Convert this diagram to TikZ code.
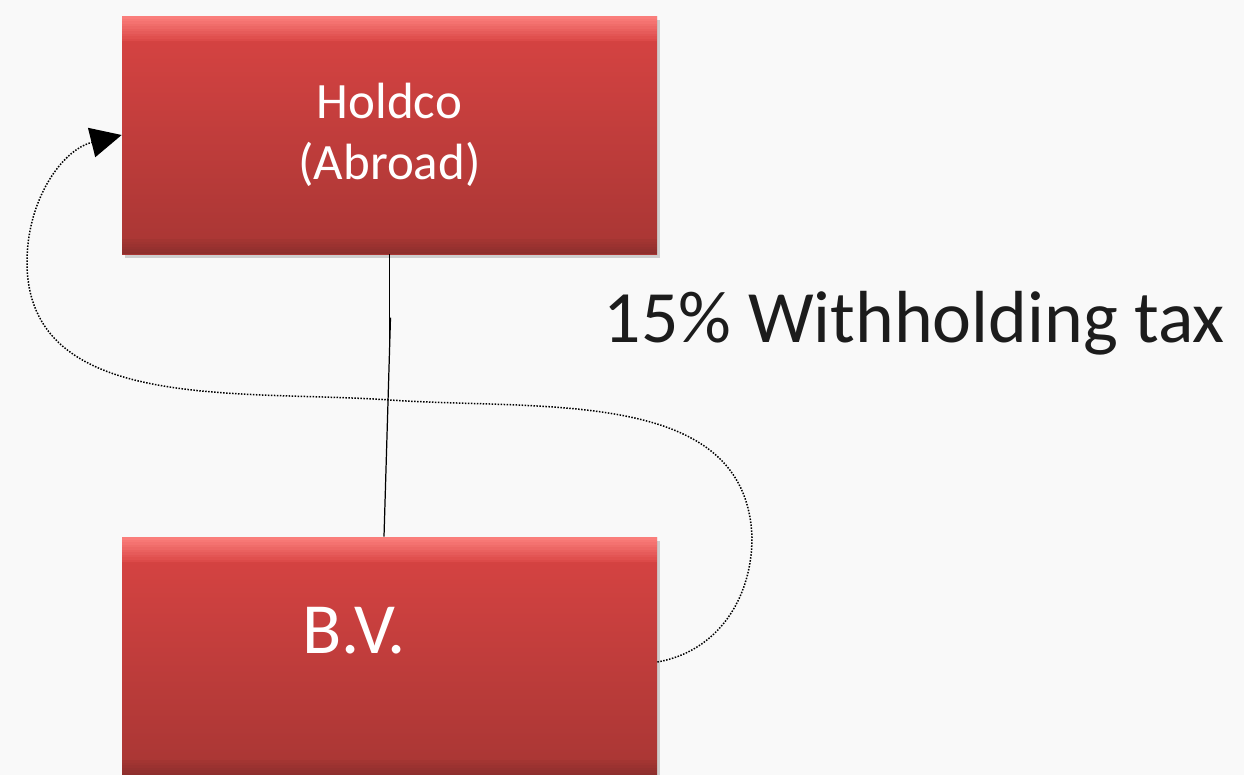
\documentclass[tikz,border=0pt]{standalone}
\usepackage{fontspec}
\setmainfont{Carlito}
\usetikzlibrary{arrows.meta, positioning, calc, shadows}
\definecolor{pagebg}{HTML}{F9F9F9}
\definecolor{boxtop}{HTML}{D94443}
\definecolor{boxbot}{HTML}{A83634}
\definecolor{boxhi}{HTML}{FA7E7B}
\definecolor{boxlo}{HTML}{8E2F2D}
\definecolor{inktext}{HTML}{1C1C1C}
\tikzset{
  entity/.style={
    rectangle, minimum width=10.7cm, minimum height=4.76cm,
    align=center, text=white, top color=boxtop, bottom color=boxbot,
    drop shadow={shadow xshift=0.06cm, shadow yshift=-0.08cm, opacity=0.35},
    path picture={
      % bevel: light rim on top, dark rim at the bottom
      \foreach \k [evaluate=\k as \p using int(100-10*\k)] in {0,...,9}
        \fill[boxhi!\p!boxtop]
          ([yshift={-\k*0.05cm}]path picture bounding box.north west) rectangle
          ([yshift={-(\k+1)*0.05cm}]path picture bounding box.north east);
      \foreach \k [evaluate=\k as \p using int(100-16*\k)] in {0,...,5}
        \fill[boxlo!\p!boxbot]
          ([yshift={\k*0.05cm}]path picture bounding box.south west) rectangle
          ([yshift={(\k+1)*0.05cm}]path picture bounding box.south east);
    }
  },
  flow/.style={
    black, line width=0.85pt, dash pattern=on 0.85pt off 0.85pt,
    -{Triangle[length=0.62cm, width=0.6cm]}
  },
  link/.style={black, line width=0.7pt}
}

\begin{document}
\begin{tikzpicture}
  \fill[pagebg] (0,0) rectangle (24.88,-15.5);
  \useasboundingbox (0,0) rectangle (24.88,-15.5);

  % Entities
  \node[entity, font=\fontsize{29}{35}\selectfont] (holdco) at (7.79,-2.7)
    {Holdco\\(Abroad)};
  \node[entity] (bv) at (7.79,-13.12) {};
  \node[text=white, font=\fontsize{41}{48}\selectfont]
    (bvname) at ($(bv.center)+(-0.71,0.5)$) {B.V.};

  % Ownership line
  \draw[link] (holdco.south) -- ++(0,-1.96);
  \draw[link] ([xshift=-0.11cm]bv.north) -- ++(0.13,4.38);

  % Dividend flow back to the parent
  \draw[flow] ([yshift=-0.12cm]bv.east)
    to[out=10, in=-90] (15.04,-10.75)
    to[out=92, in=-4] (7.8,-8.0)
    to[out=176, in=-90] (0.54,-5.24)
    to[out=90, in=194] (holdco.west);

  \node[anchor=base west, text=inktext, font=\fontsize{42}{50}\selectfont]
    (wht) at (11.95,-6.84) {15\% Withholding tax};
\end{tikzpicture}
\end{document}
